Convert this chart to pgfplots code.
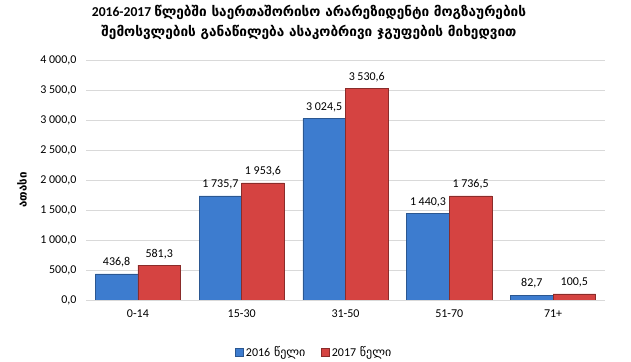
\documentclass[border=0pt]{standalone}
\usepackage{fontspec}
\setmainfont{Carlito}
\newfontfamily\geo{DejaVu Sans}
\usepackage{pgfplots}
\pgfplotsset{compat=1.18}
\definecolor{b16}{HTML}{3D7CCF}
\definecolor{r17}{HTML}{D54341}
\definecolor{gridc}{HTML}{D9D9D9}
\begin{document}
\begin{tikzpicture}
\useasboundingbox (0,0) rectangle (631bp,362bp);
\node[align=center, font=\fontsize{13.6bp}{20bp}\selectfont\bfseries, text=black] at (309bp,340bp)
  {2016-2017 {\geo\bfseries წლებში საერთაშორისო არარეზიდენტი მოგზაურების}\\
   {\geo\bfseries შემოსვლების განაწილება ასაკობრივი ჯგუფების მიხედვით}};
\node[rotate=90, font=\fontsize{11.5bp}{13bp}\selectfont\geo\bfseries] at (22bp,172bp) {ათასი};
\begin{axis}[
  at={(86bp,62bp)}, anchor=south west,
  scale only axis, width=519bp, height=240bp,
  ybar, bar width=0.41,
  xmin=-0.5, xmax=4.5, ymin=0, ymax=4000,
  xtick={0,1,2,3,4}, xticklabels={0-14,15-30,31-50,51-70,71+},
  ytick={0,500,...,4000},
  ymajorgrids, grid style={gridc, line width=0.8pt},
  axis x line*=bottom, axis y line*=left,
  y axis line style={draw=none},
  x axis line style={draw=gridc, line width=0.8pt, -},
  major tick length=0pt,
  tick style={draw=none},
  /pgf/number format/.cd, fixed, fixed zerofill, precision=1, use comma, 1000 sep={\hspace{0.22em}}, assume math mode=true,
  /pgfplots/.cd,
  ticklabel style={font=\fontsize{12bp}{14bp}\selectfont, text=black},
  yticklabel style={xshift=-6bp},
  xticklabel style={yshift=-6bp},
  nodes near coords,
  every node near coord/.append style={font=\fontsize{12bp}{14bp}\selectfont, text=black, yshift=3bp},
  legend style={at={(0.44,-0.217)}, anchor=center, draw=none, fill=none,
    legend columns=2, font=\fontsize{12bp}{14bp}\selectfont\geo,
    /tikz/every even column/.append style={column sep=14bp}},
  legend image code/.code={\fill[#1] (0bp,-4bp) rectangle (8bp,4bp);},
]
\addplot[fill=b16, draw=b16!70!black, line width=0.5pt, bar shift=-0.205] coordinates {(0,436.8) (1,1735.7) (2,3024.5) (3,1440.3) (4,82.7)};
\addplot[fill=r17, draw=r17!65!black, line width=0.5pt, bar shift=0.205] coordinates {(0,581.3) (1,1953.6) (2,3530.6) (3,1736.5) (4,100.5)};
\legend{{\rmfamily 2016} წელი, {\rmfamily 2017} წელი}
\end{axis}
\end{tikzpicture}
\end{document}
